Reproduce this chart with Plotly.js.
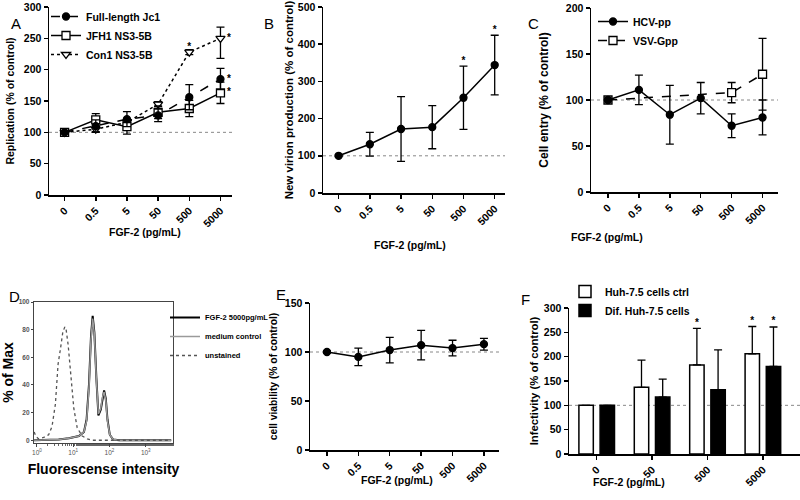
<!DOCTYPE html>
<html>
<head>
<meta charset="utf-8">
<script src="https://cdn.plot.ly/plotly-3.0.1.min.js"></script>
<style>
  body { margin: 0; background: white; }
  #fig { width: 800px; height: 500px; }
</style>
</head>
<body>
<div id="fig"></div>
<script>
// doses on the x axis
var conc = ['0', '0.5', '5', '50', '500', '5000'];
var concF = ['0', '50', '500', '5000'];

// A - replication
var jc1 = [100, 110, 121, 127, 156, 185];
var jc1Err = [2, 10, 12, 10, 20, 17];
var jfh1 = [100, 120, 109, 132, 138, 163];
var jfh1Err = [2, 10, 12, 10, 13, 17];
var con1 = [100, 105, 116, 145, 228, 250];
var con1Plus = [2, 4, 5, 4, 4, 18];
var con1Minus = [2, 4, 5, 4, 4, 32];

// B - new virion production
var virion = [100, 131, 172, 177, 256, 344];
var virionErr = [2, 32, 87, 58, 85, 80];

// C - cell entry
var hcv = [100, 111, 84, 102, 72, 81];
var hcvErr = [2, 16, 32, 17, 13, 19];
var vsv = [100, null, null, null, 108, 128];
var vsvErr = [2, 0, 0, 0, 11, 39];

// D - flow cytometry histograms
var unstX = [0.84, 0.93, 1.11, 1.53, 2.11, 2.61, 3.23, 3.83, 4.45, 5.16, 5.87, 6.39, 7.26, 8.43, 10.4, 12.9, 17.8, 24.5, 33.7, 60, 200, 5000];
var unstY = [6, 3, 1, 2, 4, 10, 26, 55, 66, 78, 82, 80, 69, 47, 23, 9, 3, 1, 0, 0, 0, 0];
var fgfX = [0.84, 1.5, 3.98, 7.6, 14.4, 19.8, 23.4, 27.2, 30.9, 34.4, 38.3, 43.5, 49.5, 57.4, 63.9, 71.1, 79.1, 87.9, 102, 126, 186, 5000];
var fgfY = [0, 0, 0.5, 1.5, 3, 6, 15, 40, 75, 90, 78, 45, 18, 22, 30, 36, 30, 15, 4, 0.5, 0, 0];
var medY = [0, 0, 0.5, 1.5, 3, 6, 14, 38, 73, 88, 77, 44, 19, 23, 31, 35, 29, 14, 4, 0.5, 0, 0];

// E - cell viability
var viability = [100, 95, 102, 107, 104, 108];
var viabilityErr = [1, 9, 13, 15, 8, 6];

// F - infectivity
var ctrl = [100, 137, 183, 206];
var ctrlErr = [0, 56, 75, 56];
var dif = [100, 117, 132, 180];
var difErr = [0, 37, 82, 81];

// which points carry a significance star
var con1Star = [0, 0, 0, 0, 1, 1];
var jc1Star = [0, 0, 0, 0, 0, 1];
var jfh1Star = [0, 0, 0, 0, 0, 1];
var virionStar = [0, 0, 0, 0, 1, 1];
var ctrlStar = [0, 0, 1, 1];
var difStar = [0, 0, 0, 1];

var W = 800, H = 500;
var BARGAP = 0.235, GROUPGAP = 0.32;
function dx(a, b) { return [a / W, b / W]; }
function dy(top, bottom) { return [1 - bottom / H, 1 - top / H]; }

var FONT = 'Liberation Sans, Arial, sans-serif';
var bold = function (s) { return {family: FONT, size: s, color: 'black', weight: 'bold'}; };

function err(arr, minus) {
  var e = {type: 'data', array: arr, color: 'black', thickness: 1.3, width: 4, visible: true};
  if (minus) { e.symmetric = false; e.arrayminus = minus; }
  return e;
}

function line(x, y, name, ax, dash, symbol, fill, e, leg) {
  return {
    x: x, y: y, name: name, type: 'scatter', mode: 'lines+markers',
    xaxis: 'x' + ax, yaxis: 'y' + ax, connectgaps: true,
    line: {color: 'black', width: 1.5, dash: dash},
    marker: {symbol: symbol, size: symbol === 'circle' ? 7 : 8, color: fill, line: {color: 'black', width: 1.3}},
    error_y: e, legend: leg, legendgroup: name, showlegend: !!leg
  };
}

// star text trace: only the flagged points, y = value (+ error)
function stars(x, y, add, flags, xa, ya, pos) {
  var sx = [], sy = [], st = [];
  flags.forEach(function (f, i) {
    if (f) { sx.push(x[i]); sy.push(y[i] + (add ? add[i] : 0)); st.push('*'); }
  });
  return {
    x: sx, y: sy, text: st, type: 'scatter', mode: 'text', textposition: pos,
    textfont: bold(10), xaxis: xa, yaxis: ya, showlegend: false, cliponaxis: false, hoverinfo: 'skip'
  };
}

// index positions for stars placed on overlay numeric axes
function idx(cats, shift) { return cats.map(function (c, i) { return i + shift; }); }
var slot = (1 - BARGAP) / 2;
var rangeA = [-0.5, 5.37];
var rangeF = [-0.5, 3.67];

var data = [
  line(conc, con1, 'Con1 NS3-5B', '', 'dot', 'triangle-down', 'white', err(con1Plus, con1Minus), 'legend'),
  line(conc, jfh1, 'JFH1 NS3-5B', '', 'solid', 'square', 'white', err(jfh1Err), 'legend'),
  line(conc, jc1, 'Full-length Jc1', '', 'dash', 'circle', 'black', err(jc1Err), 'legend'),
  stars(conc, con1, null, [1, 1, 1, 1, 1, 0].map(function (m, i) { return m && con1Star[i]; }), 'x', 'y', 'top center'),
  stars(idx(conc, 0.27), con1, null, [0, 0, 0, 0, 0, con1Star[5]], 'x8', 'y', 'middle center'),
  stars(idx(conc, 0.27), jc1, null, jc1Star, 'x8', 'y', 'middle center'),
  stars(idx(conc, 0.27), jfh1, null, jfh1Star, 'x8', 'y', 'middle center'),
  line(conc, virion, 'virion', '2', 'solid', 'circle', 'black', err(virionErr), null),
  stars(conc, virion, virionErr, virionStar, 'x2', 'y2', 'top center'),
  line(conc, vsv, 'VSV-Gpp', '3', 'dash', 'square', 'white', err(vsvErr), 'legend2'),
  line(conc, hcv, 'HCV-pp', '3', 'solid', 'circle', 'black', err(hcvErr), 'legend2'),
  {x: fgfX, y: fgfY, name: 'FGF-2 5000pg/mL', type: 'scatter', mode: 'lines', xaxis: 'x4', yaxis: 'y4',
   line: {color: 'black', width: 2}, legend: 'legend3'},
  {x: fgfX, y: medY, name: 'medium control', type: 'scatter', mode: 'lines', xaxis: 'x4', yaxis: 'y4',
   line: {color: '#9a9a9a', width: 1.5}, legend: 'legend3'},
  {x: unstX, y: unstY, name: 'unstained', type: 'scatter', mode: 'lines', xaxis: 'x4', yaxis: 'y4',
   line: {color: '#555', width: 1.3, dash: 'dot'}, legend: 'legend3'},
  line(conc, viability, 'viability', '5', 'solid', 'circle', 'black', err(viabilityErr), null),
  {x: concF, y: ctrl, name: 'Huh-7.5 cells ctrl', type: 'bar', xaxis: 'x6', yaxis: 'y6',
   marker: {color: 'white', line: {color: 'black', width: 1.5}},
   error_y: err(ctrlErr, [0, 0, 0, 0]), legend: 'legend4'},
  {x: concF, y: dif, name: 'Dif. Huh-7.5 cells', type: 'bar', xaxis: 'x6', yaxis: 'y6',
   marker: {color: 'black', line: {color: 'black', width: 1.5}},
   error_y: err(difErr, [0, 0, 0, 0]), legend: 'legend4'},
  stars(idx(concF, -slot / 2), ctrl, ctrlErr, ctrlStar, 'x7', 'y6', 'top center'),
  stars(idx(concF, slot / 2), dif, difErr, difStar, 'x7', 'y6', 'top center')
];

function catAxis(dom, range) {
  return {
    domain: dom, type: 'category', range: range, showline: true, linecolor: 'black', linewidth: 1.5,
    ticks: 'outside', ticklen: 4, tickwidth: 1.5, tickcolor: 'black', tickangle: -45,
    tickfont: bold(10.5), showgrid: false, zeroline: false, automargin: false
  };
}
function valAxis(dom, range, dtick, title, size, standoff, anchor) {
  return {
    domain: dom, range: range, dtick: dtick, showline: true, linecolor: 'black', linewidth: 1.5,
    ticks: 'outside', ticklen: 4, tickwidth: 1.5, tickcolor: 'black',
    tickfont: bold(10.5), showgrid: false, zeroline: false, automargin: false, anchor: anchor,
    title: {text: title, font: bold(size), standoff: standoff}
  };
}
function overlay(base, anchor, range) {
  return {overlaying: base, anchor: anchor, range: range, visible: false, showgrid: false, zeroline: false};
}

var legBase = {xanchor: 'left', yanchor: 'top', bgcolor: 'rgba(0,0,0,0)', tracegroupgap: 2};

var layout = {
  width: W, height: H,
  margin: {l: 0, r: 0, t: 0, b: 0},
  paper_bgcolor: 'white', plot_bgcolor: 'white',
  barmode: 'group', bargap: BARGAP, bargroupgap: GROUPGAP,
  xaxis: catAxis(dx(49, 232), rangeA),
  yaxis: valAxis(dy(7, 195), [0, 300], 50, 'Replication (% of control)', 10.5, 7, 'x'),
  xaxis2: Object.assign(catAxis(dx(323, 505), [-0.5, 5.33]), {anchor: 'y2'}),
  yaxis2: valAxis(dy(7, 193), [0, 500], 100, 'New virion production (% of control)', 11.5, 2, 'x2'),
  xaxis3: Object.assign(catAxis(dx(591, 778), [-0.55, 5.5]), {anchor: 'y3'}),
  yaxis3: valAxis(dy(8, 192), [0, 200], 50, 'Cell entry (% of control)', 12, 14, 'x3'),
  xaxis4: {
    domain: dx(34, 173), anchor: 'y4', type: 'log', range: [-0.08, 3.75],
    tickvals: [1, 10, 100, 1000], ticktext: ['10<sup>0</sup>', '10<sup>1</sup>', '10<sup>2</sup>', '10<sup>3</sup>'],
    showline: true, mirror: true, linecolor: '#444', linewidth: 1.2,
    ticks: 'outside', ticklen: 3, tickcolor: '#444', tickfont: {family: FONT, size: 6.5, color: '#555'},
    minor: {ticks: 'outside', ticklen: 2, tickcolor: '#666', showgrid: false},
    showgrid: false, zeroline: false, automargin: false,
    title: {text: 'Fluorescense intensity', font: bold(14), standoff: 9}
  },
  yaxis4: {
    domain: dy(302, 443), anchor: 'x4', range: [-2, 100], dtick: 20,
    showline: true, mirror: true, linecolor: '#444', linewidth: 1.2,
    ticks: 'outside', ticklen: 2, tickcolor: '#444', tickfont: {family: FONT, size: 6.5, color: '#555', weight: 'bold'},
    showgrid: false, zeroline: false, automargin: false,
    title: {text: '% of Max', font: bold(14), standoff: 3}
  },
  xaxis5: Object.assign(catAxis(dx(310, 499), [-0.54, 5.48]), {anchor: 'y5'}),
  yaxis5: valAxis(dy(303, 450), [0, 150], 50, 'cell viability (% of control)', 10.3, 5, 'x5'),
  xaxis6: Object.assign(catAxis(dx(569, 800), rangeF), {anchor: 'y6'}),
  yaxis6: valAxis(dy(308, 454), [0, 300], 50, 'Infectivity (% of control)', 11.3, 3, 'x6'),
  xaxis7: overlay('x6', 'y6', rangeF),
  xaxis8: overlay('x', 'y', rangeA),
  legend: Object.assign({x: 46 / W, y: 1 - 2 / H, font: bold(10.5), traceorder: 'reversed'}, legBase),
  legend2: Object.assign({x: 593 / W, y: 1 - 7 / H, font: bold(10.5), traceorder: 'reversed'}, legBase),
  legend3: Object.assign({x: 165 / W, y: 1 - 303 / H, font: bold(7.5)}, legBase, {tracegroupgap: 0}),
  legend4: Object.assign({x: 565 / W, y: 1 - 277 / H, font: bold(10.5)}, legBase),
  shapes: [],
  annotations: []
};

// dotted 100 % reference lines
['', '2', '3', '5', '6'].forEach(function (a) {
  layout.shapes.push({type: 'line', xref: 'x' + a + ' domain', yref: 'y' + a, x0: 0, x1: 1, y0: 100, y1: 100,
    line: {color: '#888', width: 1, dash: 'dot'}, layer: 'below'});
});

// panel letters
[['A', 9, 13], ['B', 269, 13], ['C', 541, 13], ['D', 7, 296], ['E', 281, 294], ['F', 525, 299]].forEach(function (p) {
  layout.annotations.push({text: p[0], xref: 'paper', yref: 'paper', x: p[1] / W, y: 1 - p[2] / H,
    showarrow: false, font: {family: FONT, size: 15, color: 'black'}});
});

// x axis titles (placed as in the figure, slightly left of the axis centre)
[[107, 232], [410, 245], [645, 237], [397, 488], [667, 490]].forEach(function (p) {
  layout.annotations.push({text: 'FGF-2 (pg/mL)', xref: 'paper', yref: 'paper', x: p[0] / W, y: 1 - p[1] / H,
    showarrow: false, font: bold(10.5)});
});

Plotly.newPlot('fig', data, layout, {displayModeBar: false, staticPlot: true});
</script>
</body>
</html>
